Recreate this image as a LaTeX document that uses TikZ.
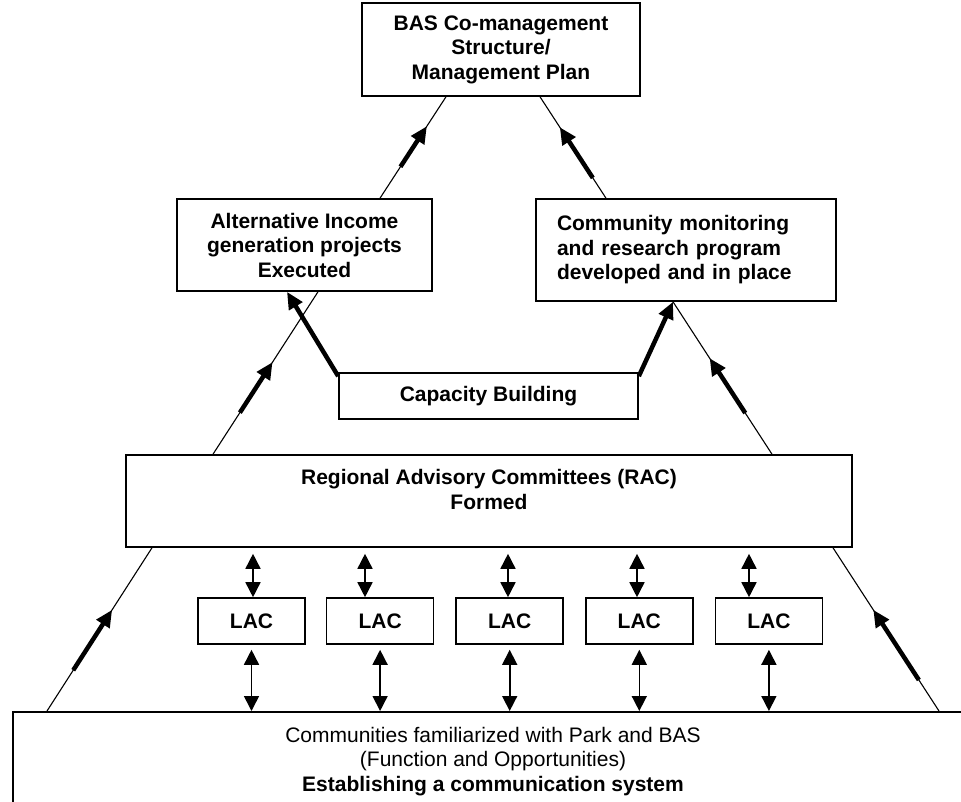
\documentclass[tikz,border=0pt]{standalone}
\usepackage{fontspec}
\setmainfont{Liberation Sans}
\usepackage{tikz}
\usetikzlibrary{arrows.meta,positioning}

\begin{document}
\begin{tikzpicture}[x=1pt, y=-1pt,
  box/.style={draw, line width=1.6pt, align=center, inner sep=0pt,
    font=\fontsize{21}{24.5}\selectfont\bfseries},
  txt/.style={align=center, inner sep=0pt, font=\fontsize{21}{24.5}\selectfont},
  lac/.style={box, minimum width=107, minimum height=46},
  link/.style={line width=1.1pt},
  bigarrow/.style={line width=4.5pt, -{Triangle[length=17pt,width=15pt]}},
  duo/.style={line width=1.6pt, {Triangle[length=15pt,width=15pt]}-{Triangle[length=15pt,width=15pt]}}
]
\useasboundingbox (0,0) rectangle (961,802);


% BAS structure at the top
\node[box, minimum width=278, minimum height=93] (bas) at (501,49.5)
  {BAS Co-management\\Structure/\\Management Plan};


% Income projects and monitoring program
\node[box, minimum width=255, minimum height=92] (aig) at (304.5,245)
  {Alternative Income\\generation projects\\Executed};
\node[box, align=left, text width=258, inner xsep=21, minimum height=102] (cmr) at (686,250)
  {Community monitoring\\and research program\\developed and in place};


% Capacity building
\node[box, minimum width=299, minimum height=46] (cap) at (488.5,396) {Capacity Building};


% Regional advisory committees
\node[box, minimum width=726, minimum height=92] (rac) at (489,501) {};
\node[txt, font=\fontsize{21}{24.5}\selectfont\bfseries, below=15pt of rac.north] (ractxt)
  {Regional Advisory Committees (RAC)\\Formed};


% Local advisory committees
\node[lac] (lac1) at (251.5,621) {LAC};
\node[lac, right=20pt of lac1] (lac2) {LAC};
\node[lac, right=21pt of lac2] (lac3) {LAC};
\node[lac, right=21pt of lac3] (lac4) {LAC};
\node[lac, right=21pt of lac4] (lac5) {LAC};


% Communities at the base
\node[box, minimum width=960, minimum height=130, anchor=north] (base) at (493,711) {};
\node[txt, below=16pt of base.north] (basetxt)
  {Communities familiarized with Park and BAS\\(Function and Opportunities)\\
   \textbf{Establishing a communication system}};


% Pyramid sides
\draw[link] (base.north -| 47,0) -- (rac.south -| 152,0)
  coordinate[pos=.25] (s1a) coordinate[pos=.62] (s1b);
\draw[link] (base.north -| 939,0) -- (rac.south -| 833,0)
  coordinate[pos=.19] (s2a) coordinate[pos=.62] (s2b);
\draw[link] (rac.north -| 213,0) -- (aig.south -| 318,0)
  coordinate[pos=.256] (s3a) coordinate[pos=.567] (s3b);
\draw[link] (rac.north -| 772,0) -- (cmr.south -| 673,0)
  coordinate[pos=.27] (s4a) coordinate[pos=.63] (s4b);
\draw[link] (aig.north -| 380,0) -- (bas.south -| 446,0)
  coordinate[pos=.31] (s5a) coordinate[pos=.71] (s5b);
\draw[link] (cmr.north -| 606,0) -- (bas.south -| 540,0)
  coordinate[pos=.2] (s6a) coordinate[pos=.7] (s6b);

\draw[bigarrow] (s1a) -- (s1b);
\draw[bigarrow] (s2a) -- (s2b);
\draw[bigarrow] (s3a) -- (s3b);
\draw[bigarrow] (s4a) -- (s4b);
\draw[bigarrow] (s5a) -- (s5b);
\draw[bigarrow] (s6a) -- (s6b);


% Capacity building feeds both
\draw[bigarrow] ([yshift=-4pt]cap.north west) -- (aig.south -| 287,0);
\draw[bigarrow] ([yshift=-4pt]cap.north east) -- (cmr.south -| 673,0);


% RAC <-> LAC
\draw[duo, shorten <=6pt] (rac.south -| 253,0) -- (lac1.north -| 253,0);
\draw[duo, shorten <=6pt] (rac.south -| 365,0) -- (lac2.north -| 365,0);
\draw[duo, shorten <=6pt] (rac.south -| 508,0) -- (lac3.north -| 508,0);
\draw[duo, shorten <=6pt] (rac.south -| 637,0) -- (lac4.north -| 637,0);
\draw[duo, shorten <=6pt] (rac.south -| 749,0) -- (lac5.north -| 749,0);

% LAC <-> communities
\draw[duo, shorten <=5pt] (lac1.south) -- (base.north -| lac1.south);
\draw[duo, shorten <=5pt] (lac2.south) -- (base.north -| lac2.south);
\draw[duo, shorten <=5pt] (lac3.south) -- (base.north -| lac3.south);
\draw[duo, shorten <=5pt] (lac4.south) -- (base.north -| lac4.south);
\draw[duo, shorten <=5pt] (lac5.south) -- (base.north -| lac5.south);


\end{tikzpicture}
\end{document}
